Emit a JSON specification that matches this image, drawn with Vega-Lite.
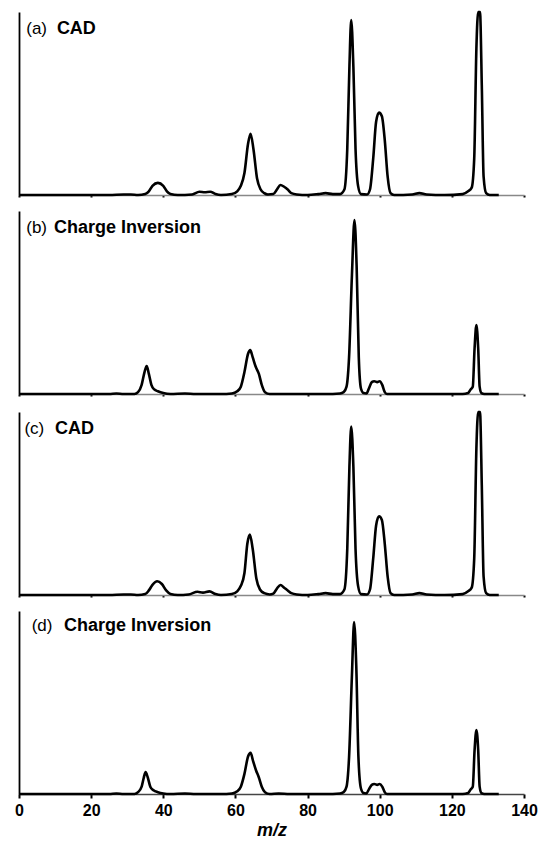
{
  "$schema": "https://vega.github.io/schema/vega-lite/v6.json",
  "padding": {"left": 14, "top": 10, "right": 0, "bottom": 4},
  "config": {
    "view": {"stroke": null},
    "font": "Liberation Sans",
    "concat": {"spacing": 13}
  },
  "datasets": {
    "a": [
      {"mz": 0, "i": 0}, {"mz": 25, "i": 0}, {"mz": 29, "i": 0.3}, {"mz": 31, "i": 0.3}, {"mz": 33, "i": 0},
      {"mz": 35, "i": 0.5}, {"mz": 36, "i": 2}, {"mz": 37, "i": 5}, {"mz": 38.5, "i": 6.6}, {"mz": 40, "i": 5},
      {"mz": 41, "i": 2}, {"mz": 42, "i": 0.5}, {"mz": 44, "i": 0}, {"mz": 48, "i": 0.3}, {"mz": 50, "i": 1.8},
      {"mz": 51.5, "i": 1.5}, {"mz": 53, "i": 1.8}, {"mz": 54.5, "i": 0.5}, {"mz": 56, "i": 0}, {"mz": 59, "i": 0.5},
      {"mz": 60.5, "i": 2}, {"mz": 61.5, "i": 5}, {"mz": 62.5, "i": 12}, {"mz": 63.5, "i": 28}, {"mz": 64.2, "i": 33.5},
      {"mz": 65, "i": 25}, {"mz": 66, "i": 9}, {"mz": 67, "i": 3}, {"mz": 68, "i": 1}, {"mz": 69, "i": 0.3},
      {"mz": 70.5, "i": 0.5}, {"mz": 71.5, "i": 3}, {"mz": 72.5, "i": 5.5}, {"mz": 73.5, "i": 4.5}, {"mz": 74.5, "i": 3},
      {"mz": 75.5, "i": 1}, {"mz": 77, "i": 0.3}, {"mz": 80, "i": 0}, {"mz": 83, "i": 0.5}, {"mz": 85, "i": 1},
      {"mz": 87, "i": 0.5}, {"mz": 89, "i": 0.5}, {"mz": 90.2, "i": 3}, {"mz": 91, "i": 25}, {"mz": 91.6, "i": 70},
      {"mz": 92.1, "i": 95.6}, {"mz": 92.7, "i": 70}, {"mz": 93.3, "i": 25}, {"mz": 94, "i": 5}, {"mz": 94.8, "i": 0.5},
      {"mz": 96.5, "i": 0.3}, {"mz": 97.3, "i": 3}, {"mz": 98.2, "i": 20}, {"mz": 99, "i": 40}, {"mz": 99.8, "i": 45},
      {"mz": 100.6, "i": 43}, {"mz": 101.4, "i": 30}, {"mz": 102.2, "i": 10}, {"mz": 103, "i": 1}, {"mz": 104, "i": 0},
      {"mz": 109, "i": 0.3}, {"mz": 111, "i": 1}, {"mz": 113, "i": 0.3}, {"mz": 118, "i": 0}, {"mz": 123, "i": 0.5},
      {"mz": 124.5, "i": 2}, {"mz": 125.5, "i": 4}, {"mz": 126.2, "i": 20}, {"mz": 126.8, "i": 80}, {"mz": 127.3, "i": 140},
      {"mz": 127.8, "i": 140}, {"mz": 128.3, "i": 60}, {"mz": 128.8, "i": 10}, {"mz": 129.5, "i": 1}, {"mz": 130.5, "i": 0},
      {"mz": 133, "i": 0}
    ],
    "b": [
      {"mz": 0, "i": 0}, {"mz": 25, "i": 0}, {"mz": 27, "i": 0.3}, {"mz": 29, "i": 0}, {"mz": 32, "i": 0},
      {"mz": 33, "i": 1}, {"mz": 34, "i": 5}, {"mz": 34.8, "i": 12}, {"mz": 35.4, "i": 15.3}, {"mz": 36, "i": 11},
      {"mz": 36.7, "i": 5}, {"mz": 37.5, "i": 2.5}, {"mz": 38.5, "i": 1.5}, {"mz": 40, "i": 0.5}, {"mz": 42, "i": 0},
      {"mz": 46, "i": 0.3}, {"mz": 49, "i": 0}, {"mz": 56, "i": 0}, {"mz": 59, "i": 0.3}, {"mz": 60.5, "i": 1.5},
      {"mz": 61.5, "i": 4}, {"mz": 62.5, "i": 12}, {"mz": 63.5, "i": 22}, {"mz": 64.1, "i": 24}, {"mz": 64.8, "i": 20},
      {"mz": 65.6, "i": 15}, {"mz": 66.5, "i": 11}, {"mz": 67.3, "i": 5}, {"mz": 68.2, "i": 1}, {"mz": 69.5, "i": 0},
      {"mz": 75, "i": 0}, {"mz": 85, "i": 0}, {"mz": 89, "i": 0.3}, {"mz": 90, "i": 1}, {"mz": 90.8, "i": 4},
      {"mz": 91.5, "i": 20}, {"mz": 92.3, "i": 65}, {"mz": 93, "i": 95}, {"mz": 93.6, "i": 70}, {"mz": 94.2, "i": 20},
      {"mz": 94.8, "i": 3}, {"mz": 95.5, "i": 0.5}, {"mz": 96.3, "i": 0.3}, {"mz": 97, "i": 3}, {"mz": 97.8, "i": 6.5},
      {"mz": 98.5, "i": 7}, {"mz": 99.3, "i": 6.5}, {"mz": 100, "i": 7}, {"mz": 100.7, "i": 5}, {"mz": 101.4, "i": 1},
      {"mz": 102, "i": 0}, {"mz": 115, "i": 0}, {"mz": 123, "i": 0}, {"mz": 124.5, "i": 0.5}, {"mz": 125.2, "i": 2.5},
      {"mz": 125.8, "i": 4}, {"mz": 126.3, "i": 25}, {"mz": 126.8, "i": 37.7}, {"mz": 127.3, "i": 25}, {"mz": 127.7, "i": 4},
      {"mz": 128.2, "i": 0.5}, {"mz": 129, "i": 0}, {"mz": 133, "i": 0}
    ],
    "c": [
      {"mz": 0, "i": 0}, {"mz": 25, "i": 0}, {"mz": 29, "i": 0.3}, {"mz": 31, "i": 0.3}, {"mz": 33, "i": 0},
      {"mz": 35, "i": 0.5}, {"mz": 36, "i": 2.5}, {"mz": 37, "i": 5.5}, {"mz": 38.3, "i": 7.5}, {"mz": 39.6, "i": 6},
      {"mz": 40.8, "i": 2.5}, {"mz": 42, "i": 0.5}, {"mz": 44, "i": 0}, {"mz": 47, "i": 0.3}, {"mz": 49.5, "i": 1.8},
      {"mz": 51, "i": 1.3}, {"mz": 52.8, "i": 2}, {"mz": 54.5, "i": 0.5}, {"mz": 56, "i": 0}, {"mz": 59, "i": 0.5},
      {"mz": 60.5, "i": 2}, {"mz": 61.5, "i": 5}, {"mz": 62.5, "i": 12}, {"mz": 63.3, "i": 28}, {"mz": 64, "i": 33},
      {"mz": 64.8, "i": 25}, {"mz": 65.8, "i": 9}, {"mz": 66.8, "i": 3}, {"mz": 68, "i": 1}, {"mz": 69.5, "i": 0.3},
      {"mz": 70.5, "i": 0.8}, {"mz": 71.5, "i": 3.5}, {"mz": 72.5, "i": 5.5}, {"mz": 73.5, "i": 4}, {"mz": 74.5, "i": 2.5},
      {"mz": 75.5, "i": 1}, {"mz": 77, "i": 0.3}, {"mz": 80, "i": 0}, {"mz": 83, "i": 0.5}, {"mz": 85, "i": 1},
      {"mz": 87, "i": 0.5}, {"mz": 89, "i": 0.5}, {"mz": 90.2, "i": 3}, {"mz": 91, "i": 25}, {"mz": 91.6, "i": 70},
      {"mz": 92.1, "i": 92}, {"mz": 92.7, "i": 70}, {"mz": 93.3, "i": 25}, {"mz": 94, "i": 5}, {"mz": 94.8, "i": 0.5},
      {"mz": 96.5, "i": 0.3}, {"mz": 97.3, "i": 3}, {"mz": 98.2, "i": 20}, {"mz": 99, "i": 38}, {"mz": 99.8, "i": 43},
      {"mz": 100.6, "i": 41}, {"mz": 101.4, "i": 28}, {"mz": 102.2, "i": 10}, {"mz": 103, "i": 1}, {"mz": 104, "i": 0},
      {"mz": 109, "i": 0.3}, {"mz": 111, "i": 1}, {"mz": 113, "i": 0.3}, {"mz": 118, "i": 0}, {"mz": 123, "i": 0.5},
      {"mz": 124.5, "i": 2}, {"mz": 125.5, "i": 4}, {"mz": 126.2, "i": 20}, {"mz": 126.8, "i": 80}, {"mz": 127.3, "i": 140},
      {"mz": 127.8, "i": 140}, {"mz": 128.3, "i": 60}, {"mz": 128.8, "i": 10}, {"mz": 129.5, "i": 1}, {"mz": 130.5, "i": 0},
      {"mz": 133, "i": 0}
    ],
    "d": [
      {"mz": 0, "i": 0}, {"mz": 25, "i": 0}, {"mz": 27, "i": 0.3}, {"mz": 29, "i": 0}, {"mz": 32, "i": 0},
      {"mz": 33, "i": 1}, {"mz": 34, "i": 4}, {"mz": 34.6, "i": 9}, {"mz": 35.1, "i": 12}, {"mz": 35.7, "i": 9},
      {"mz": 36.4, "i": 4}, {"mz": 37.3, "i": 2}, {"mz": 38.5, "i": 1}, {"mz": 40, "i": 0.3}, {"mz": 42, "i": 0},
      {"mz": 46, "i": 0.3}, {"mz": 49, "i": 0}, {"mz": 56, "i": 0}, {"mz": 59, "i": 0.3}, {"mz": 60.5, "i": 1.5},
      {"mz": 61.5, "i": 4}, {"mz": 62.5, "i": 11}, {"mz": 63.5, "i": 20.5}, {"mz": 64.2, "i": 22.5}, {"mz": 64.9, "i": 18},
      {"mz": 65.7, "i": 13}, {"mz": 66.5, "i": 9}, {"mz": 67.3, "i": 4}, {"mz": 68.2, "i": 1}, {"mz": 69.5, "i": 0},
      {"mz": 72, "i": 0.3}, {"mz": 75, "i": 0}, {"mz": 85, "i": 0}, {"mz": 89, "i": 0.3}, {"mz": 90, "i": 1},
      {"mz": 90.8, "i": 4}, {"mz": 91.5, "i": 20}, {"mz": 92.3, "i": 65}, {"mz": 92.9, "i": 94}, {"mz": 93.5, "i": 70},
      {"mz": 94.1, "i": 20}, {"mz": 94.8, "i": 3}, {"mz": 95.5, "i": 0.5}, {"mz": 96.3, "i": 0.3}, {"mz": 97, "i": 2.5},
      {"mz": 97.8, "i": 5}, {"mz": 98.5, "i": 5.5}, {"mz": 99.3, "i": 5}, {"mz": 100, "i": 5.5}, {"mz": 100.7, "i": 4},
      {"mz": 101.4, "i": 1}, {"mz": 102, "i": 0}, {"mz": 115, "i": 0}, {"mz": 123, "i": 0}, {"mz": 124.5, "i": 0.5},
      {"mz": 125.2, "i": 2.5}, {"mz": 125.8, "i": 4}, {"mz": 126.3, "i": 24}, {"mz": 126.8, "i": 35}, {"mz": 127.3, "i": 24},
      {"mz": 127.7, "i": 4}, {"mz": 128.2, "i": 0.5}, {"mz": 129, "i": 0}, {"mz": 133, "i": 0}
    ]
  },
  "vconcat": [
    {
      "width": 505, "height": 183,
      "layer": [
        {
          "data": {"name": "a"},
          "mark": {"type": "line", "color": "black", "strokeWidth": 2.6, "interpolate": "monotone", "strokeJoin": "round"},
          "encoding": {
            "x": {"field": "mz", "type": "quantitative", "scale": {"domain": [0, 140], "nice": false},
                  "axis": {"labels": false, "title": null, "tickSize": 2, "tickWidth": 2, "tickColor": "black", "domainColor": "#888", "domainWidth": 1.5, "grid": false, "values": [0, 20, 40, 60, 80, 100, 120, 140]}},
            "y": {"field": "i", "type": "quantitative", "scale": {"domain": [0, 100], "nice": false, "clamp": true},
                  "axis": {"labels": false, "ticks": false, "title": null, "grid": false, "domainColor": "black", "domainWidth": 1.8}}
          }
        },
        {
          "data": {"values": [{"tag": "(a)", "name": "CAD"}]},
          "mark": {"type": "text", "align": "left", "baseline": "alphabetic", "fontSize": 17, "color": "black"},
          "encoding": {"x": {"datum": 2}, "y": {"datum": 88}, "text": {"field": "tag"}}
        },
        {
          "data": {"values": [{"tag": "(a)", "name": "CAD"}]},
          "mark": {"type": "text", "align": "left", "baseline": "alphabetic", "fontSize": 18, "fontWeight": "bold", "color": "black"},
          "encoding": {"x": {"datum": 10.5}, "y": {"datum": 88}, "text": {"field": "name"}}
        }
      ]
    },
    {
      "width": 505, "height": 183,
      "layer": [
        {
          "data": {"name": "b"},
          "mark": {"type": "line", "color": "black", "strokeWidth": 2.6, "interpolate": "monotone", "strokeJoin": "round"},
          "encoding": {
            "x": {"field": "mz", "type": "quantitative", "scale": {"domain": [0, 140], "nice": false},
                  "axis": {"labels": false, "title": null, "tickSize": 2, "tickWidth": 2, "tickColor": "black", "domainColor": "#888", "domainWidth": 1.5, "grid": false, "values": [0, 20, 40, 60, 80, 100, 120, 140]}},
            "y": {"field": "i", "type": "quantitative", "scale": {"domain": [0, 100], "nice": false, "clamp": true},
                  "axis": {"labels": false, "ticks": false, "title": null, "grid": false, "domainColor": "black", "domainWidth": 1.8}}
          }
        },
        {
          "data": {"values": [{"tag": "(b)", "name": "Charge Inversion"}]},
          "mark": {"type": "text", "align": "left", "baseline": "alphabetic", "fontSize": 17, "color": "black"},
          "encoding": {"x": {"datum": 2}, "y": {"datum": 88}, "text": {"field": "tag"}}
        },
        {
          "data": {"values": [{"tag": "(b)", "name": "Charge Inversion"}]},
          "mark": {"type": "text", "align": "left", "baseline": "alphabetic", "fontSize": 18, "fontWeight": "bold", "color": "black"},
          "encoding": {"x": {"datum": 9.7}, "y": {"datum": 88}, "text": {"field": "name"}}
        }
      ]
    },
    {
      "width": 505, "height": 183,
      "layer": [
        {
          "data": {"name": "c"},
          "mark": {"type": "line", "color": "black", "strokeWidth": 2.6, "interpolate": "monotone", "strokeJoin": "round"},
          "encoding": {
            "x": {"field": "mz", "type": "quantitative", "scale": {"domain": [0, 140], "nice": false},
                  "axis": {"labels": false, "title": null, "tickSize": 2, "tickWidth": 2, "tickColor": "black", "domainColor": "#888", "domainWidth": 1.5, "grid": false, "values": [0, 20, 40, 60, 80, 100, 120, 140]}},
            "y": {"field": "i", "type": "quantitative", "scale": {"domain": [0, 100], "nice": false, "clamp": true},
                  "axis": {"labels": false, "ticks": false, "title": null, "grid": false, "domainColor": "black", "domainWidth": 1.8}}
          }
        },
        {
          "data": {"values": [{"tag": "(c)", "name": "CAD"}]},
          "mark": {"type": "text", "align": "left", "baseline": "alphabetic", "fontSize": 17, "color": "black"},
          "encoding": {"x": {"datum": 1.5}, "y": {"datum": 88}, "text": {"field": "tag"}}
        },
        {
          "data": {"values": [{"tag": "(c)", "name": "CAD"}]},
          "mark": {"type": "text", "align": "left", "baseline": "alphabetic", "fontSize": 18, "fontWeight": "bold", "color": "black"},
          "encoding": {"x": {"datum": 10}, "y": {"datum": 88}, "text": {"field": "name"}}
        }
      ]
    },
    {
      "width": 505, "height": 183,
      "layer": [
        {
          "data": {"name": "d"},
          "mark": {"type": "line", "color": "black", "strokeWidth": 2.6, "interpolate": "monotone", "strokeJoin": "round"},
          "encoding": {
            "x": {"field": "mz", "type": "quantitative", "scale": {"domain": [0, 140], "nice": false},
                  "axis": {"title": "m/z", "titleFontStyle": "italic", "titleFontWeight": "bold", "titleFontSize": 18, "titleColor": "black", "titlePadding": 3,
                           "labelFontSize": 16, "labelFontWeight": "bold", "labelColor": "black", "labelPadding": 4, "labelOverlap": false, "labelFlush": false,
                           "tickSize": 4, "tickWidth": 2, "tickColor": "black", "domainColor": "#444", "domainWidth": 1.5, "grid": false, "values": [0, 20, 40, 60, 80, 100, 120, 140]}},
            "y": {"field": "i", "type": "quantitative", "scale": {"domain": [0, 100], "nice": false, "clamp": true},
                  "axis": {"labels": false, "ticks": false, "title": null, "grid": false, "domainColor": "black", "domainWidth": 1.8}}
          }
        },
        {
          "data": {"values": [{"tag": "(d)", "name": "Charge Inversion"}]},
          "mark": {"type": "text", "align": "left", "baseline": "alphabetic", "fontSize": 17, "color": "black"},
          "encoding": {"x": {"datum": 3.5}, "y": {"datum": 89}, "text": {"field": "tag"}}
        },
        {
          "data": {"values": [{"tag": "(d)", "name": "Charge Inversion"}]},
          "mark": {"type": "text", "align": "left", "baseline": "alphabetic", "fontSize": 18, "fontWeight": "bold", "color": "black"},
          "encoding": {"x": {"datum": 12.5}, "y": {"datum": 89}, "text": {"field": "name"}}
        }
      ]
    }
  ]
}
